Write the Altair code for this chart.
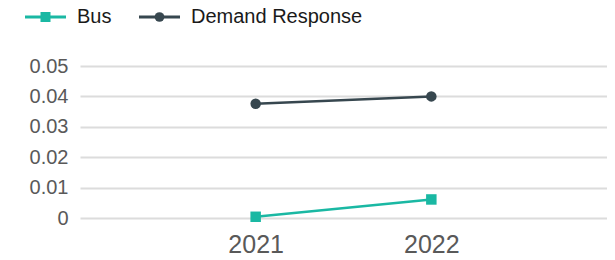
import altair as alt
import pandas as pd

years = [2021, 2022]
series_names = ["Bus", "Demand Response"]
bus_values = [0.0004, 0.0061]
dr_values = [0.0376, 0.0400]
y_ticks = [0, 0.01, 0.02, 0.03, 0.04, 0.05]
x_ticks = [2021, 2022]

colors = ["#1ab8a3", "#37474f"]
marker_kinds = ["square", "circle"]

rows = []
for yr, v in zip(years, bus_values):
    rows.append({"year": yr, "series": "Bus", "value": v})
for yr, v in zip(years, dr_values):
    rows.append({"year": yr, "series": "Demand Response", "value": v})
df = pd.DataFrame(rows)

x_enc = alt.X("year:Q", scale=alt.Scale(domain=[2020, 2023], nice=False, zero=False),
              axis=alt.Axis(values=x_ticks, format="d", grid=False, ticks=False, domain=False,
                            labelFontSize=25, labelColor="#595959", labelPadding=14,
                            labelFont="Liberation Sans", title=None))
y_enc = alt.Y("value:Q", scale=alt.Scale(domain=[0, 0.05], nice=False),
              axis=alt.Axis(values=y_ticks, labelExpr="datum.value == 0 ? '0' : format(datum.value, '.2f')",
                            ticks=False, domain=False, grid=True, gridColor="#dcdcdc", gridWidth=2,
                            labelFontSize=20, labelColor="#595959", labelPadding=12,
                            labelFont="Liberation Sans", title=None))
color_scale = alt.Scale(domain=series_names, range=colors)

lines = alt.Chart(df).mark_line(strokeWidth=2.5).encode(
    x=x_enc, y=y_enc, color=alt.Color("series:N", scale=color_scale, legend=None)
)
squares = alt.Chart(df).transform_filter(alt.datum.series == "Bus").mark_square(size=110, opacity=1).encode(
    x=x_enc, y=y_enc, color=alt.Color("series:N", scale=color_scale, legend=None)
)
circles = alt.Chart(df).transform_filter(alt.datum.series == "Demand Response").mark_circle(size=110, opacity=1).encode(
    x=x_enc, y=y_enc, color=alt.Color("series:N", scale=color_scale, legend=None)
)

# hand-built legend above the plot (positions relative to the plot's top-left corner)
legend_y = -49
legend_starts = [-55, 59]
layers = [lines, squares, circles]
for name, col, kind, x0 in zip(series_names, colors, marker_kinds, legend_starts):
    ldf = pd.DataFrame({"series": [name]})
    base = alt.Chart(ldf)
    stub = base.mark_rule(strokeWidth=3, color=col).encode(
        x=alt.value(x0), x2=alt.value(x0 + 41), y=alt.value(legend_y))
    if kind == "square":
        mk = base.mark_square(size=100, color=col, opacity=1)
    else:
        mk = base.mark_circle(size=95, color=col, opacity=1)
    mk = mk.encode(x=alt.value(x0 + 20.5), y=alt.value(legend_y))
    txt = base.mark_text(align="left", baseline="middle", fontSize=20, font="Liberation Sans",
                         color="#1a1a1a").encode(
        x=alt.value(x0 + 52), y=alt.value(legend_y), text="series:N")
    layers += [stub, mk, txt]

chart = alt.layer(*layers).properties(
    width=527, height=152,
    autosize=alt.AutoSizeParams(type="none"),
    padding={"left": 72, "top": 58, "right": 0, "bottom": 42},
).configure_view(stroke=None)

chart.save("out.html", embed_options={"renderer": "svg", "actions": False})
